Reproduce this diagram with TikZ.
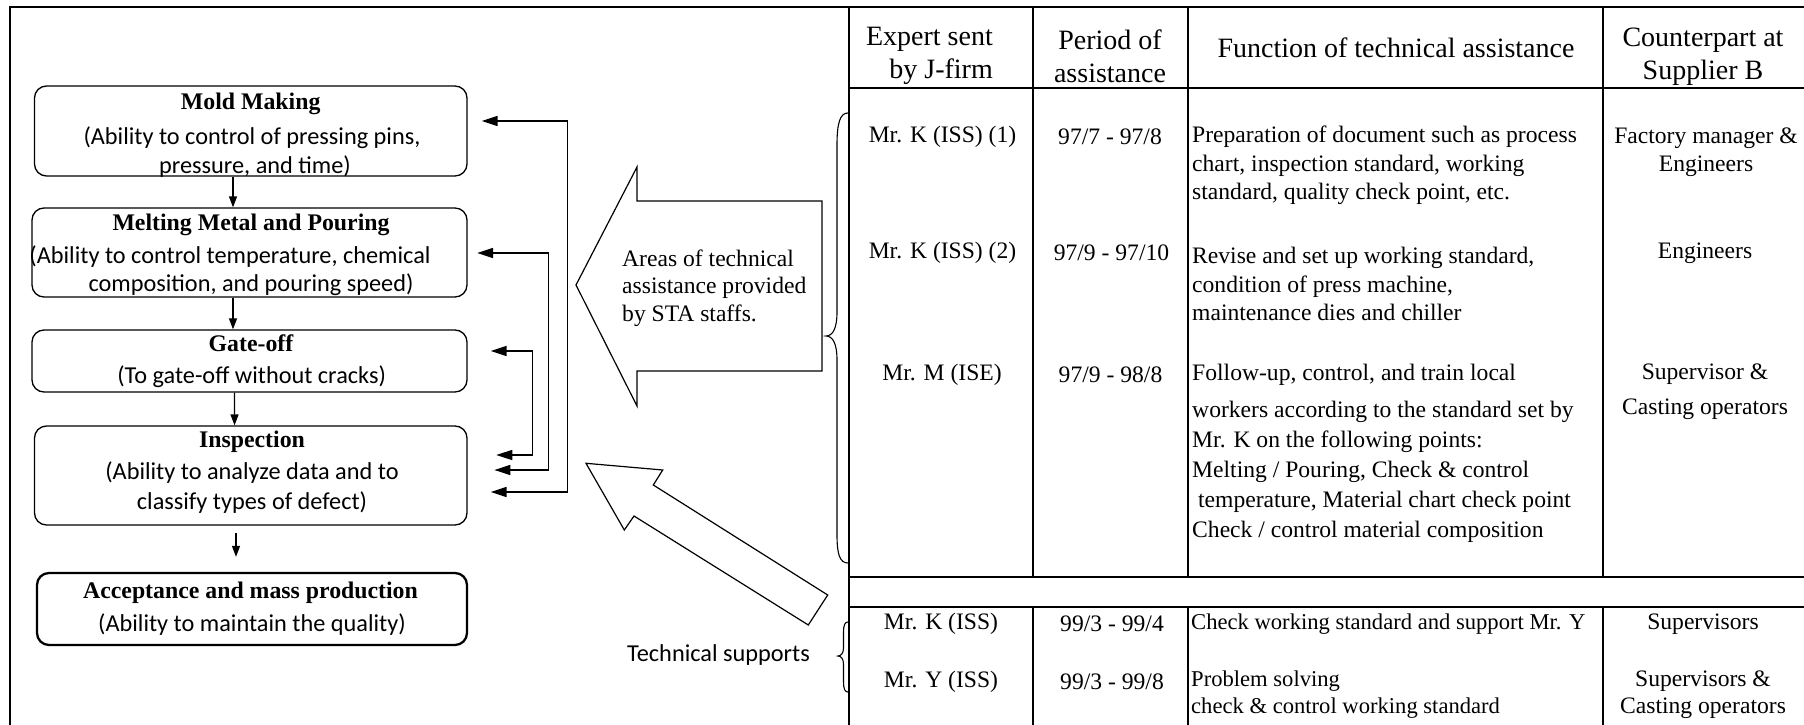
\documentclass[tikz,border=0pt]{standalone}
\usepackage{fontspec}
\setmainfont{Liberation Serif}
\newfontfamily\sansf{Carlito}
\usetikzlibrary{arrows.meta,calc}
\begin{document}
\begin{tikzpicture}[x=1pt,y=-1pt,
  procbox/.style={draw, rounded corners=12pt, line width=1.3pt, inner sep=0pt},
  ttl/.style={font=\fontsize{23.8}{28}\selectfont\bfseries, inner sep=0pt},
  sanstext/.style={font=\sansf\fontsize{24.3}{29}\selectfont, inner sep=0pt},
  hdr/.style={font=\fontsize{28}{33}\selectfont, inner sep=0pt, align=center},
  cell/.style={font=\fontsize{23.6}{28.5}\selectfont, inner sep=0pt, align=center},
  lcell/.style={font=\fontsize{23.6}{28.5}\selectfont, inner sep=0pt, align=left, anchor=west},
  tbl/.style={line width=2pt},
  dn/.style={line width=1.3pt, -{Triangle[length=11pt,width=8pt]}},
  fb/.style={line width=1.6pt, {Triangle[length=16pt,width=10pt]}-{Triangle[length=16pt,width=10pt]}},
  blk/.style={line width=1.2pt, line join=miter},
  brc/.style={line width=1.1pt}
]
\useasboundingbox (0,0) rectangle (1804,725);

% outer frame and table grid
\draw[line width=1.6pt] (10,725) -- (10,7);
\draw[tbl] (9.2,7) -- (1804,7);
\draw[tbl] (849,7) -- (849,725);
\draw[tbl] (849,88) -- (1804,88);
\draw[tbl] (849,577) -- (1804,577);
\draw[tbl] (849,607) -- (1804,607);
\foreach \x in {1033,1188,1603} {
  \draw[tbl] (\x,7) -- (\x,577);
  \draw[tbl] (\x,607) -- (\x,725);
}

% process boxes
\node[procbox, minimum width=432.5pt, minimum height=90pt] (mold) at (250.75,131) {};
\node[procbox, minimum width=435pt, minimum height=89pt] (melt) at (249.5,252.5) {};
\node[procbox, minimum width=435pt, minimum height=62pt] (gate) at (249.5,361) {};
\node[procbox, minimum width=432.5pt, minimum height=99pt] (insp) at (250.75,475.5) {};
\node[procbox, line width=2.3pt, minimum width=430pt, minimum height=72pt] (accept) at (252,609) {};

\node[ttl] (mt) at (250.7,104) {Mold Making};
\node[sanstext] (m1) at (252,138) {(Ability to control of pressing pins,};
\node[sanstext] (m2) at (255,167) {pressure, and time)};

\node[ttl] (met) at (251,225) {Melting Metal and Pouring};
\node[sanstext] (me1) at (230,257) {(Ability to control temperature, chemical};
\node[sanstext] (me2) at (251,285) {composition, and pouring speed)};

\node[ttl] (gt) at (251,343) {Gate-off};
\node[sanstext] (g1) at (251.6,377) {(To gate-off without cracks)};

\node[ttl] (it) at (252,442) {Inspection};
\node[sanstext] (i1) at (252,473) {(Ability to analyze data and to};
\node[sanstext] (i2) at (252,503) {classify types of defect)};

\node[ttl] (at) at (250.5,593) {Acceptance and mass production};
\node[sanstext] (a1) at (252,625) {(Ability to maintain the quality)};

% flow arrows
\draw[dn] ($(mold.south)+(-17.75,0)$) -- ($(melt.north)+(-16.5,0)$);
\draw[dn] ($(melt.south)+(-16.5,0)$) -- ($(gate.north)+(-16.5,0)$);
\draw[dn] ($(gate.south)+(-15,0)$) -- ($(insp.north)+(-16.2,0)$);
\draw[dn] ($(insp.south)+(-14.75,7)$) -- ($(accept.north)+(-16,-15)$);

% feedback arrows
\draw[fb] ($(mold.east)+(14,-10)$) -- ++(86,0) |- ($(insp.east)+(23,16.5)$);
\draw[fb] ($(melt.east)+(9.5,0.5)$) -- ++(71.5,0) |- ($(insp.east)+(26.7,-5.5)$);
\draw[fb] ($(gate.east)+(23,-10)$) -- ++(42,0) |- ($(insp.east)+(28.6,-20.5)$);

% block arrows
\draw[blk] (576,285) -- (637,167) -- (637,201) -- (822,201) -- (822,371) -- (637,371) -- (637,406) -- cycle;
\node[cell, align=left, anchor=west, font=\fontsize{23.6}{27.5}\selectfont] (areas) at (622,288) {Areas of technical\\assistance provided\\by STA staffs.};
\draw[blk] (586,463.3) -- (662.7,470) -- (653.3,485) -- (827.7,595) -- (808.3,625) -- (634,516) -- (624.3,530) -- cycle;
\node[sanstext] (tech) at (718.5,655) {Technical supports};

% braces
\draw[brc] (848,113) .. controls (840,113) and (837,123) .. (837,145) -- (837,312)
  .. controls (837,328) and (833,336) .. (826,336)
  .. controls (833,336) and (837,344) .. (837,360) -- (837,535)
  .. controls (837,555) and (840,563) .. (848,563);
\draw[brc] (848,622) .. controls (845,622) and (843.5,625) .. (843.5,632) -- (843.5,648)
  .. controls (843.5,653) and (841,656) .. (838,656)
  .. controls (841,656) and (843.5,659) .. (843.5,664) -- (843.5,682)
  .. controls (843.5,689) and (845,692) .. (848,692);

% table header
\node[hdr, align=right, anchor=east] (h1) at (993,56) {Expert sent\\by J-firm};
\node[hdr] (h2) at (1110,56) {Period of\\assistance};
\node[hdr] (h3) at (1396,48) {Function of technical assistance};
\node[hdr] (h4) at (1703,56.5) {Counterpart at\\Supplier B};

% row 1
\node[cell] (r1a) at (942.5,137) {Mr. K (ISS) (1)};
\node[cell] (r1b) at (1110,137) {97/7 - 97/8};
\node[lcell] (r1c) at (1192,165.5) {Preparation of document such as process\\chart, inspection standard, working\\standard, quality check point, etc.};
\node[cell] (r1d) at (1706,152) {Factory manager \&\\Engineers};

% row 2
\node[cell] (r2a) at (942.5,253) {Mr. K (ISS) (2)};
\node[cell] (r2b) at (1111.5,253) {97/9 - 97/10};
\node[lcell] (r2c) at (1192,284) {Revise and set up working standard,\\condition of press machine,\\maintenance dies and chiller};
\node[cell] (r2d) at (1705,253) {Engineers};

% row 3
\node[cell] (r3a) at (942,375) {Mr. M (ISE)};
\node[cell] (r3b) at (1110.5,375) {97/9 - 98/8};
\node[lcell, font=\fontsize{23.6}{30}\selectfont] (r3c) at (1192,453) {Follow-up, control, and train local\\[6.7pt]workers according to the standard set by\\Mr. K on the following points:\\Melting / Pouring, Check \& control\\\hspace*{0.25em}temperature, Material chart check point\\Check / control material composition};
\node[cell, font=\fontsize{23.6}{35}\selectfont] (r3d) at (1705,392) {Supervisor \&\\Casting operators};

% lower rows
\node[cell] (r4a) at (941,624) {Mr. K (ISS)};
\node[cell] (r4b) at (1112,624) {99/3 - 99/4};
\node[lcell, font=\fontsize{22.6}{27}\selectfont] (r4c) at (1191,624) {Check working standard and support Mr. Y};
\node[cell] (r4d) at (1703,624) {Supervisors};
\node[cell] (r5a) at (941,682) {Mr. Y (ISS)};
\node[cell] (r5b) at (1112,682) {99/3 - 99/8};
\node[lcell, font=\fontsize{22.6}{27}\selectfont] (r5c) at (1191,695) {Problem solving\\check \& control working standard};
\node[cell, font=\fontsize{23.6}{27}\selectfont] (r5d) at (1703,695) {Supervisors \&\\Casting operators};
\end{tikzpicture}
\end{document}
